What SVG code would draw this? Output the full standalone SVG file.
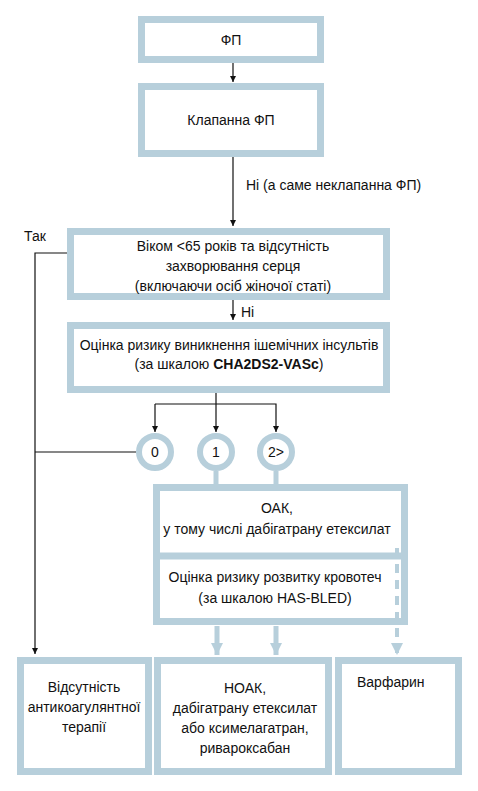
<svg xmlns="http://www.w3.org/2000/svg" width="478" height="791" viewBox="0 0 478 791">
<style>
.box{fill:#fff;stroke:#b7cfdb;stroke-width:7}
.circ{fill:#fff;stroke:#b7cfdb;stroke-width:6}
.t{font-family:"Liberation Sans",Arial,sans-serif;font-size:14px;fill:#111;text-anchor:middle}
.ts{font-family:"Liberation Sans",Arial,sans-serif;font-size:14px;fill:#111}
.ln{fill:none;stroke:#111;stroke-width:1.2}
.bl{fill:none;stroke:#b7cfdb;stroke-width:5}
.bd{fill:none;stroke:#b7cfdb;stroke-width:4;stroke-dasharray:9 7}
</style>
<defs>
<marker id="ah" viewBox="0 0 10 10" refX="10" refY="5" markerWidth="6" markerHeight="8" markerUnits="userSpaceOnUse" orient="auto"><path d="M0,0 L10,5 L0,10 Z" fill="#111"/></marker>
<marker id="bh" viewBox="0 0 10 10" refX="10" refY="5" markerWidth="12" markerHeight="12" markerUnits="userSpaceOnUse" orient="auto"><path d="M0,0 L10,5 L0,10 Z" fill="#b7cfdb"/></marker>
</defs>
<g id="n1"><rect class="box" x="141.5" y="19.5" width="179" height="40"/><text class="t" x="231" y="45">ФП</text></g>
<g id="n2"><rect class="box" x="141.5" y="86.5" width="179" height="67"/><text class="t" x="231" y="125">Клапанна ФП</text></g>
<text class="ts" x="246" y="190">Ні (а саме неклапанна ФП)</text>
<text class="ts" x="24" y="241">Так</text>
<g id="n3"><rect class="box" x="70.5" y="231.5" width="316" height="65"/>
<text class="t" x="233" y="251">Віком &lt;65 років та відсутність</text>
<text class="t" x="233" y="271">захворювання серця</text>
<text class="t" x="233" y="291">(включаючи осіб жіночої статі)</text></g>
<text class="ts" x="241" y="317">Ні</text>
<g id="n4"><rect class="box" x="70.5" y="325.5" width="316" height="64"/>
<text class="t" x="229" y="350">Оцінка ризику виникнення ішемічних інсультів</text>
<text class="t" x="229" y="369">(за шкалою <tspan font-weight="bold">CHA2DS2-VASc</tspan>)</text></g>
<g id="c0"><circle class="circ" cx="155" cy="452" r="16"/><text class="t" x="155" y="457">0</text></g>
<g id="c1"><circle class="circ" cx="216" cy="452" r="16"/><text class="t" x="216" y="457">1</text></g>
<g id="c2"><circle class="circ" cx="276" cy="452" r="16"/><text class="t" x="276" y="457">2&gt;</text></g>
<g id="n5"><rect class="box" x="156.5" y="487.5" width="248" height="134"/>
<path d="M153,556 H408" stroke="#b7cfdb" stroke-width="7"/>
<text class="t" x="277" y="513">ОАК,</text>
<text class="t" x="277" y="534">у тому числі дабігатрану етексилат</text>
<text class="t" x="275" y="582">Оцінка ризику розвитку кровотеч</text>
<text class="t" x="275" y="603">(за шкалою HAS-BLED)</text></g>
<g id="n6"><rect class="box" x="20.5" y="660.5" width="128" height="111"/>
<text class="t" x="84" y="692">Відсутність</text>
<text class="t" x="84" y="712">антикоагулянтної</text>
<text class="t" x="84" y="732">терапії</text></g>
<g id="n7"><rect class="box" x="157.5" y="660.5" width="171" height="111"/>
<text class="t" x="245" y="693">НОАК,</text>
<text class="t" x="245" y="713">дабігатрану етексилат</text>
<text class="t" x="245" y="733">або ксимелагатран,</text>
<text class="t" x="245" y="753">ривароксабан</text></g>
<g id="n8"><rect class="box" x="338.5" y="660.5" width="120" height="111"/>
<text class="ts" x="357" y="687">Варфарин</text></g>
<g id="connectors">
<path class="ln" d="M233,63 V82" marker-end="url(#ah)"/>
<path class="ln" d="M233,157 V226" marker-end="url(#ah)"/>
<path class="ln" d="M233,300 V320" marker-end="url(#ah)"/>
<path class="ln" d="M67,253 H35 V654" marker-end="url(#ah)"/>
<path class="ln" d="M136,452 H35"/>
<path class="ln" d="M216,393 V432" marker-end="url(#ah)"/>
<path class="ln" d="M155,404 H276 V432" marker-end="url(#ah)"/>
<path class="ln" d="M155,404 V432" marker-end="url(#ah)"/>
<path class="bl" d="M216,471 V484"/>
<path class="bl" d="M276,471 V484"/>
<path class="bl" d="M217,626 V655" marker-end="url(#bh)"/>
<path class="bl" d="M276,626 V655" marker-end="url(#bh)"/>
<path class="bd" d="M397,548 V655" marker-end="url(#bh)"/>
</g>
</svg>
